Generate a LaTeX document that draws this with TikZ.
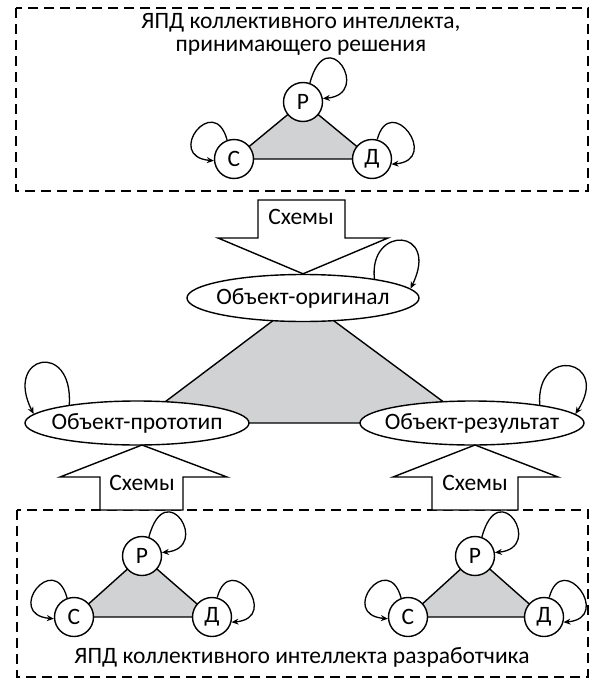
\documentclass[tikz,border=0pt]{standalone}
\usepackage{fontspec}
\setmainfont{Carlito}
\usetikzlibrary{shapes.geometric,arrows.meta}
\definecolor{trifill}{RGB}{209,210,212}
\begin{document}
\begin{tikzpicture}[x=1pt,y=1pt, line width=1.4pt,
  every node/.style={font=\fontsize{23.5}{28}\selectfont},
  frame/.style={draw, dash pattern=on 10pt off 6pt, line width=1.6pt},
  vert/.style={circle, draw, fill=white, minimum size=39pt, inner sep=0pt, line width=1.4pt},
  obj/.style={ellipse, draw, fill=white, inner sep=0pt, line width=1.4pt},
  tri/.style={draw, fill=trifill, line width=1.4pt, line join=miter},
  selfloop/.style={draw, line width=1.3pt, -{Stealth[length=7pt,width=6pt]}},
  blockarrow/.style={draw, fill=white, line width=1.4pt, line join=miter}]
\useasboundingbox (0,0) rectangle (594,-680);

% frames
\draw[frame] (16,-8) rectangle (588,-191);
\draw[frame] (17,-510) rectangle (588,-677);

% texts in frames
\node (t1) at (301,-23) {ЯПД коллективного интеллекта,};
\node (t2) at (301,-48) {принимающего решения};
\node (t3) at (302,-657) {ЯПД коллективного интеллекта разработчика};

% triad coordinates
\coordinate (p1) at (303,-102);
\coordinate (c1) at (234,-159);
\coordinate (d1) at (372,-159);
\coordinate (p2) at (142,-556);
\coordinate (c2) at (74,-617);
\coordinate (d2) at (212,-617);
\coordinate (p3) at (475,-556);
\coordinate (c3) at (408,-617);
\coordinate (d3) at (544,-617);
\coordinate (o) at (303,-298);
\coordinate (l) at (137,-423);
\coordinate (r) at (472,-423);

% triangles
\draw[tri] (p1) -- (c1) -- (d1) -- cycle;
\draw[tri] (p2) -- (c2) -- (d2) -- cycle;
\draw[tri] (p3) -- (c3) -- (d3) -- cycle;
\draw[tri] (o) -- (l) -- (r) -- cycle;

% circles
\node[vert] (P1) at (p1) {Р};
\node[vert] (C1) at (c1) {С};
\node[vert] (D1) at (d1) {Д};
\node[vert] (P2) at (p2) {Р};
\node[vert] (C2) at (c2) {С};
\node[vert] (D2) at (d2) {Д};
\node[vert] (P3) at (p3) {Р};
\node[vert] (C3) at (c3) {С};
\node[vert] (D3) at (d3) {Д};

% objects
\node[obj, minimum width=232pt, minimum height=47pt] (orig) at (o) {\makebox[0pt]{Объект-оригинал}};
\node[obj, minimum width=224pt, minimum height=44pt] (proto) at (l) {\makebox[0pt]{Объект-прототип}};
\node[obj, minimum width=224pt, minimum height=44pt] (res) at (r) {\makebox[0pt]{Объект-результат}};

% block arrows
\coordinate (tipL) at (142,-445);
\coordinate (tipR) at (475,-445);
\draw[blockarrow] (258,-200) -- (345,-200) -- (345,-238) -- (388,-238) -- (orig.north) -- (218,-238) -- (258,-238) -- cycle;
\draw[blockarrow] (100,-510) -- (183,-510) -- (183,-477) -- (227,-477) -- (tipL) -- (60,-477) -- (100,-477) -- cycle;
\draw[blockarrow] (432,-510) -- (518,-510) -- (518,-477) -- (558,-477) -- (tipR) -- (393,-477) -- (432,-477) -- cycle;
\node (s1) at (301,-217) {Схемы};
\node (s2) at (142,-483) {Схемы};
\node (s3) at (475,-483) {Схемы};

% self loops on circles
\foreach \n in {1,2,3}{
  \draw[selfloop] (P\n.70) .. controls +(75:65) and +(5:50) .. (P\n.10);
  \draw[selfloop] (C\n.110) .. controls +(105:50) and +(175:50) .. (C\n.185);
  \draw[selfloop] (D\n.75) .. controls +(75:50) and +(5:50) .. (D\n.345);
}

% self loops on objects
\draw[selfloop] (orig.15) .. controls +(-6,54) and +(30,61) .. (orig.5);
\draw[selfloop] (proto.165) .. controls +(4,65) and +(-30,59) .. (proto.175);
\draw[selfloop] (res.15) .. controls +(-4,60) and +(36,55) .. (res.5);
\end{tikzpicture}
\end{document}
